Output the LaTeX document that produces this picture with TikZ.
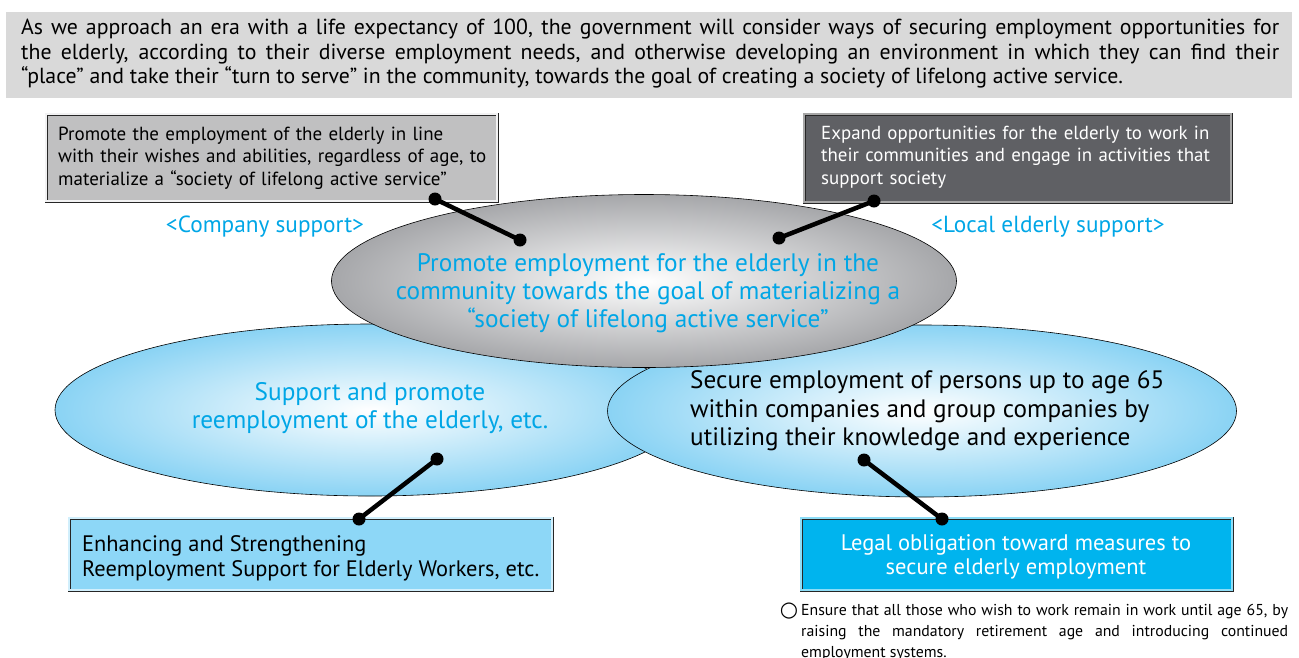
\documentclass[tikz,border=0pt]{standalone}
\usepackage{fontspec}
\setmainfont{PT Sans}
\newfontfamily\symfont{DejaVu Sans}
\usetikzlibrary{shapes.geometric}
\definecolor{bandgray}{HTML}{D9D9D9}
\definecolor{boxgray}{HTML}{C0C0C1}
\definecolor{boxdark}{HTML}{5F6064}
\definecolor{boxlblue}{HTML}{8DD7F7}
\definecolor{boxblue}{HTML}{00B4EE}
\definecolor{cyantext}{HTML}{00A6E6}
\definecolor{ellblue}{HTML}{8AD3F4}
\definecolor{ellgray}{HTML}{A6A7AA}
\tikzset{
  bevelbox/.style={draw=black!85, line width=0.7pt, double distance=2pt, inner sep=0pt, anchor=north west},
  ellnode/.style={ellipse, draw=black, line width=0.6pt, inner sep=0pt},
  conn/.style={line width=4.5pt, black},
  txt/.style={inner sep=0pt},
}
\newcommand{\fs}[2]{\fontsize{#1}{#2}\selectfont}
\begin{document}
\begin{tikzpicture}[x=1pt,y=-1pt]
\useasboundingbox (0,0) rectangle (1299,657);
% top band
\node[fill=bandgray, minimum width=1286pt, minimum height=86pt, inner sep=0pt, anchor=north west] (band) at (6,12) {};
\node[txt, anchor=north west, text width=1258pt, align=justify, font=\fs{21.8}{24.3}] (intro) at (21,19)
 {As we approach an era with a life expectancy of 100, the government will consider ways of securing employment opportunities for\linebreak
 the elderly, according to their diverse employment needs, and otherwise developing an environment in which they can find their\linebreak
 “place” and take their “turn to serve” in the community, towards the goal of creating a society of lifelong active service.};
% top boxes
\node[bevelbox, fill=boxgray, double=white!80!boxgray, minimum width=451pt, minimum height=87pt] (tlbox) at (46,114) {};
\node[txt, anchor=west, text width=435pt, align=left, font=\fs{19}{22.5}] (tltext) at (58,158)
 {Promote the employment of the elderly in line\\ with their wishes and abilities, regardless of age, to\\ materialize a “society of lifelong active service”};
\node[bevelbox, fill=boxdark, double=gray!70, minimum width=427pt, minimum height=88pt] (trbox) at (804,114) {};
\node[txt, anchor=west, text width=410pt, align=left, font=\fs{18.9}{22.5}, text=white] (trtext) at (821,157)
 {Expand opportunities for the elderly to work in\\ their communities and engage in activities that\\ support society};
% labels
\node[txt, text=cyantext, font=\fs{23.3}{26}] (lcomp) at (265,227) {<Company support>};
\node[txt, text=cyantext, font=\fs{23.3}{26}] (lloc) at (1048,227) {<Local elderly support>};
% ellipses
\node[ellnode, inner color=white, outer color=ellblue, minimum width=630pt, minimum height=172pt] (lell) at (370,410) {};
\node[ellnode, inner color=white, outer color=ellblue, minimum width=629pt, minimum height=172pt] (rell) at (922,411) {};
\node[ellnode, inner color=white, outer color=ellgray, minimum width=625pt, minimum height=173pt] (gell) at (644,281) {};
\node[txt, text=cyantext, align=center, font=\fs{25.3}{28}] (gtext) at (648,293)
 {Promote employment for the elderly in the\\ community towards the goal of materializing a\\ “society of lifelong active service”};
\node[txt, text=cyantext, align=center, font=\fs{25.3}{27.5}] (ltext) at (370,408)
 {Support and promote\\ reemployment of the elderly, etc.};
\node[txt, anchor=west, align=left, font=\fs{25.2}{28.5}] (rtext) at (690,411)
 {Secure employment of persons up to age 65\\ within companies and group companies by\\ utilizing their knowledge and experience};
% bottom boxes
\node[bevelbox, fill=boxlblue, double=white!60!boxlblue, minimum width=483pt, minimum height=72pt] (blbox) at (69,518) {};
\node[txt, anchor=west, align=left, font=\fs{22.4}{25}] (bltext) at (82,558)
 {Enhancing and Strengthening\\ Reemployment Support for Elderly Workers, etc.};
\node[bevelbox, fill=boxblue, double=white!55!boxblue, minimum width=431pt, minimum height=72pt] (brbox) at (801,518) {};
\node[txt, align=center, text=white, font=\fs{22.5}{24.5}] (brtext) at (1016,557)
 {Legal obligation toward measures to\\ secure elderly employment};
% note
\node[txt, font=\symfont\fs{21}{22}] (bullet) at (789,611) {○};
\node[txt, anchor=north west, text width=487pt, align=justify, font=\fs{15.8}{21}] (note) at (801,604)
 {Ensure that all those who wish to work remain in work until age 65, by\linebreak
 raising the mandatory retirement age and introducing continued\linebreak employment systems.};
% connectors
\coordinate (c1a) at (435,199); \coordinate (c1b) at (520,240);
\coordinate (c2a) at (874,201); \coordinate (c2b) at (779,238);
\coordinate (c3a) at (437,459); \coordinate (c3b) at (359,519);
\coordinate (c4a) at (864,460); \coordinate (c4b) at (942,519);
\foreach \a/\b in {c1a/c1b, c2a/c2b, c3a/c3b, c4a/c4b}{
  \draw[conn] (\a) -- (\b);
  \fill (\a) circle (6.5pt);
  \fill (\b) circle (6.5pt);
}
\end{tikzpicture}
\end{document}
